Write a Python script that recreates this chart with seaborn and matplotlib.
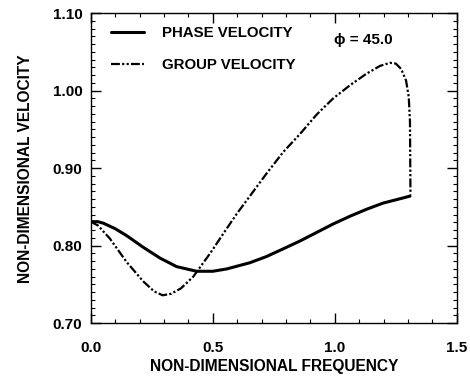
import numpy as np
import pandas as pd
import seaborn as sns
import matplotlib.pyplot as plt
from matplotlib.ticker import MultipleLocator

sns.set_theme(style="ticks")
plt.rcParams['font.family'] = ['Liberation Sans', 'DejaVu Sans']
plt.rcParams['font.weight'] = 'bold'

# values
phase_x = [0.0, 0.03, 0.052, 0.10, 0.147, 0.215, 0.284, 0.352, 0.434, 0.50, 0.557,
           0.652, 0.72, 0.789, 0.857, 0.925, 0.993, 1.062, 1.13, 1.198, 1.26, 1.308]
phase_y = [0.831, 0.831, 0.829, 0.822, 0.813, 0.798, 0.784, 0.773, 0.767, 0.767, 0.770,
           0.778, 0.786, 0.796, 0.806, 0.817, 0.828, 0.838, 0.847, 0.855, 0.860, 0.864]

group_x = [0.0, 0.03, 0.079, 0.147, 0.215, 0.26, 0.295, 0.33, 0.37, 0.42, 0.489, 0.557,
           0.598, 0.652, 0.72, 0.789, 0.857, 0.925, 0.993, 1.062, 1.13, 1.185, 1.226,
           1.25, 1.272, 1.292, 1.303, 1.308, 1.31]
group_y = [0.831, 0.826, 0.809, 0.779, 0.754, 0.741, 0.736, 0.738, 0.745, 0.760, 0.790, 0.822,
           0.841, 0.864, 0.893, 0.921, 0.944, 0.969, 0.990, 1.007, 1.022, 1.032, 1.036,
           1.035, 1.028, 1.013, 0.992, 0.960, 0.866]

phase = pd.DataFrame({"freq": phase_x, "vel": phase_y})
group = pd.DataFrame({"freq": group_x, "vel": group_y})

fig = plt.figure(figsize=(4.7, 3.78), dpi=100)
ax = fig.add_axes([0.193, 0.145, 0.779, 0.82])

sns.lineplot(data=phase, x="freq", y="vel", sort=False, color="black",
             linewidth=2.2, label="PHASE VELOCITY", ax=ax)
sns.lineplot(data=group, x="freq", y="vel", sort=False, color="black",
             linewidth=1.6, label="GROUP VELOCITY", ax=ax)
ax.lines[1].set_dashes([4, 1, 1, 1, 1, 1])

ax.set_xlim(0, 1.5)
ax.set_ylim(0.70, 1.10)
ax.xaxis.set_major_locator(MultipleLocator(0.5))
ax.xaxis.set_minor_locator(MultipleLocator(0.1))
ax.yaxis.set_major_locator(MultipleLocator(0.1))
ax.yaxis.set_minor_locator(MultipleLocator(0.01))
ax.set_xticks(ax.get_xticks())
ax.set_xticklabels([f"{v:.1f}" for v in ax.get_xticks()])
ax.set_yticks(ax.get_yticks())
ax.set_yticklabels([f"{v:.2f}" for v in ax.get_yticks()])
ax.set_xlim(0, 1.5)
ax.set_ylim(0.70, 1.10)
ax.tick_params(which="both", direction="in", top=True, right=True, color="black",
               labelsize=11, labelcolor="black")
ax.tick_params(axis="x", pad=13)
ax.tick_params(axis="y", pad=6)
ax.tick_params(which="major", length=7, width=1)
ax.tick_params(which="minor", length=3, width=0.8)
for s in ax.spines.values():
    s.set_color("black")
    s.set_linewidth(1.0)

ax.set_xlabel("NON-DIMENSIONAL FREQUENCY", fontsize=11.2, fontweight="bold",
              labelpad=3, color="black")
ax.set_ylabel("NON-DIMENSIONAL VELOCITY", fontsize=11.2, fontweight="bold",
              labelpad=14, color="black")

leg = ax.legend(loc="upper left", frameon=False, fontsize=10.8, handlelength=2.2,
                handletextpad=1.2, labelspacing=1.2, borderaxespad=0.45,
                bbox_to_anchor=(0.02, 1.0))
for t in leg.get_texts():
    t.set_fontweight("bold")
    t.set_color("black")

ax.text(1.115, 1.066, "ϕ = 45.0", fontsize=11, fontweight="bold", ha="center",
        va="center", color="black")

fig.savefig("out.png", dpi=100)
